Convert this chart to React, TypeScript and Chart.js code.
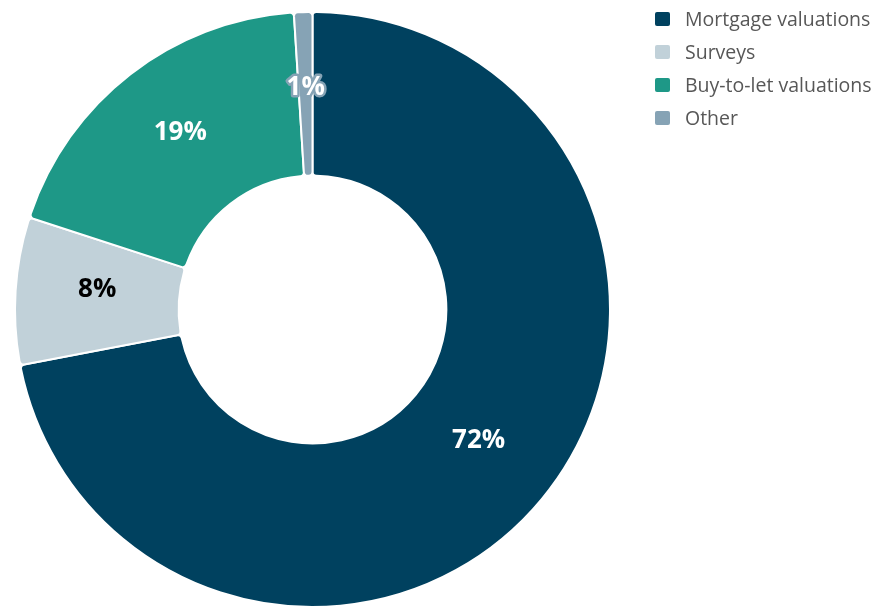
import React, { useEffect, useRef } from "react";
import { Chart, registerables } from "chart.js";

Chart.register(...registerables);

const categories = ["Mortgage valuations", "Surveys", "Buy-to-let valuations", "Other"];
const shares = [72, 8, 19, 1];
const sliceColors = ["#00415f", "#c1d1d9", "#1e9887", "#86a3b5"];
const labelColors = ["#ffffff", "#000000", "#ffffff", "#ffffff"];

const labelPlugin = {
  id: "sliceLabels",
  afterDatasetsDraw(chart: any) {
    const ctx = chart.ctx;
    const meta = chart.getDatasetMeta(0);
    ctx.save();
    ctx.font = "bold 26px 'Open Sans', sans-serif";
    ctx.textAlign = "center";
    ctx.textBaseline = "middle";
    meta.data.forEach((arc: any, i: number) => {
      const p = arc.tooltipPosition();
      const text = shares[i] + "%";
      const y = p.y - 6;
      if (shares[i] < 3) {
        ctx.lineJoin = "round";
        ctx.lineWidth = 5;
        ctx.strokeStyle = sliceColors[i];
        ctx.strokeText(text, p.x, y);
      }
      ctx.fillStyle = labelColors[i];
      ctx.fillText(text, p.x, y);
    });
    ctx.restore();
  },
  afterDraw(chart: any) {
    const ctx = chart.ctx;
    ctx.save();
    ctx.font = "19.5px 'Open Sans', sans-serif";
    ctx.textBaseline = "middle";
    ctx.textAlign = "left";
    const labels = chart.data.labels as string[];
    labels.forEach((lab, i) => {
      const cy = 19 + i * 33;
      ctx.fillStyle = sliceColors[i];
      ctx.beginPath();
      (ctx as any).roundRect(655, cy - 7, 15, 14, 2);
      ctx.fill();
      ctx.fillStyle = "#575757";
      ctx.fillText(lab, 685, cy + 1);
    });
    ctx.restore();
  },
};

export default function App() {
  const ref = useRef<HTMLCanvasElement | null>(null);
  useEffect(() => {
    document.body.style.margin = "0";
    const chart = new Chart(ref.current as HTMLCanvasElement, {
      type: "doughnut",
      data: {
        labels: categories,
        datasets: [
          {
            data: shares,
            backgroundColor: sliceColors,
            borderColor: "#ffffff",
            borderWidth: 2,
            borderRadius: 4,
          },
        ],
      },
      options: {
        animation: false,
        responsive: false,
        cutout: "45%",
        layout: { padding: { top: 11, bottom: -1, left: 13, right: 263 } },
        plugins: {
          legend: { display: false },
          tooltip: { enabled: false },
        },
      },
      plugins: [labelPlugin],
    });
    return () => chart.destroy();
  }, []);
  return (
    <div style={{ width: 875, height: 608 }}>
      <canvas ref={ref} width={875} height={608} style={{ display: "block" }} />
    </div>
  );
}
